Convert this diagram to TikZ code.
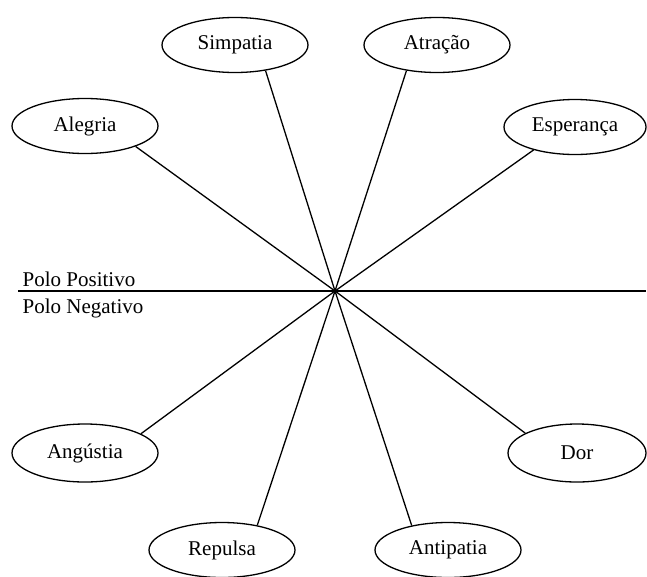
\documentclass[tikz,border=0pt]{standalone}
\usepackage{fontspec}
\setmainfont{Liberation Serif}
\usetikzlibrary{shapes.geometric}

\begin{document}
\begin{tikzpicture}[x=1pt, y=-1pt, line width=1.3pt,
		polo/.style={draw, ellipse, line width=1.3pt, minimum width=146pt, minimum height=55pt, inner sep=0pt, font=\fontsize{21}{25}\selectfont},
		rotulo/.style={anchor=base west, inner sep=0pt, font=\fontsize{21}{25}\selectfont}]
			%%%%% START %%%%%
			
			\useasboundingbox (0, 0) rectangle (647, 576);
			
			\coordinate (centro) at (335, 291);
			\coordinate (oeste) at (18, 291);
			\coordinate (leste) at (646, 291);
			
			\draw (oeste) -- (leste);
			\node[rotulo] (positivo) at (22, 286) {Polo Positivo};
			\node[rotulo] (negativo) at (22, 313) {Polo Negativo};
			
			\node[polo] (simpatia) at (235, 45) {Simpatia};
			\node[polo] (atracao) at (437, 45) {Atração};
			\node[polo] (alegria) at (85, 126) {Alegria};
			\node[polo, minimum width=142pt] (esperanca) at (575, 127) {Esperança};
			
			\node[polo, minimum height=58pt] (angustia) at (85, 453) {Angústia};
			\node[polo, minimum width=138pt, minimum height=58pt] (dor) at (577, 453) {Dor};
			\node[polo] (repulsa) at (222, 550) {Repulsa};
			\node[polo] (antipatia) at (448, 550) {Antipatia};
			
			\draw (centro) -- (simpatia.-40);
			\draw (centro) -- (atracao.-140);
			\draw (centro) -- (alegria.-22);
			\draw (centro) -- (esperanca.209);
			\draw (centro) -- (angustia.19);
			\draw (centro) -- (dor.159);
			\draw (centro) -- (repulsa.35);
			\draw (centro) -- (antipatia.146);
			
			%%%%% END %%%%%
		\end{tikzpicture}
\end{document}
